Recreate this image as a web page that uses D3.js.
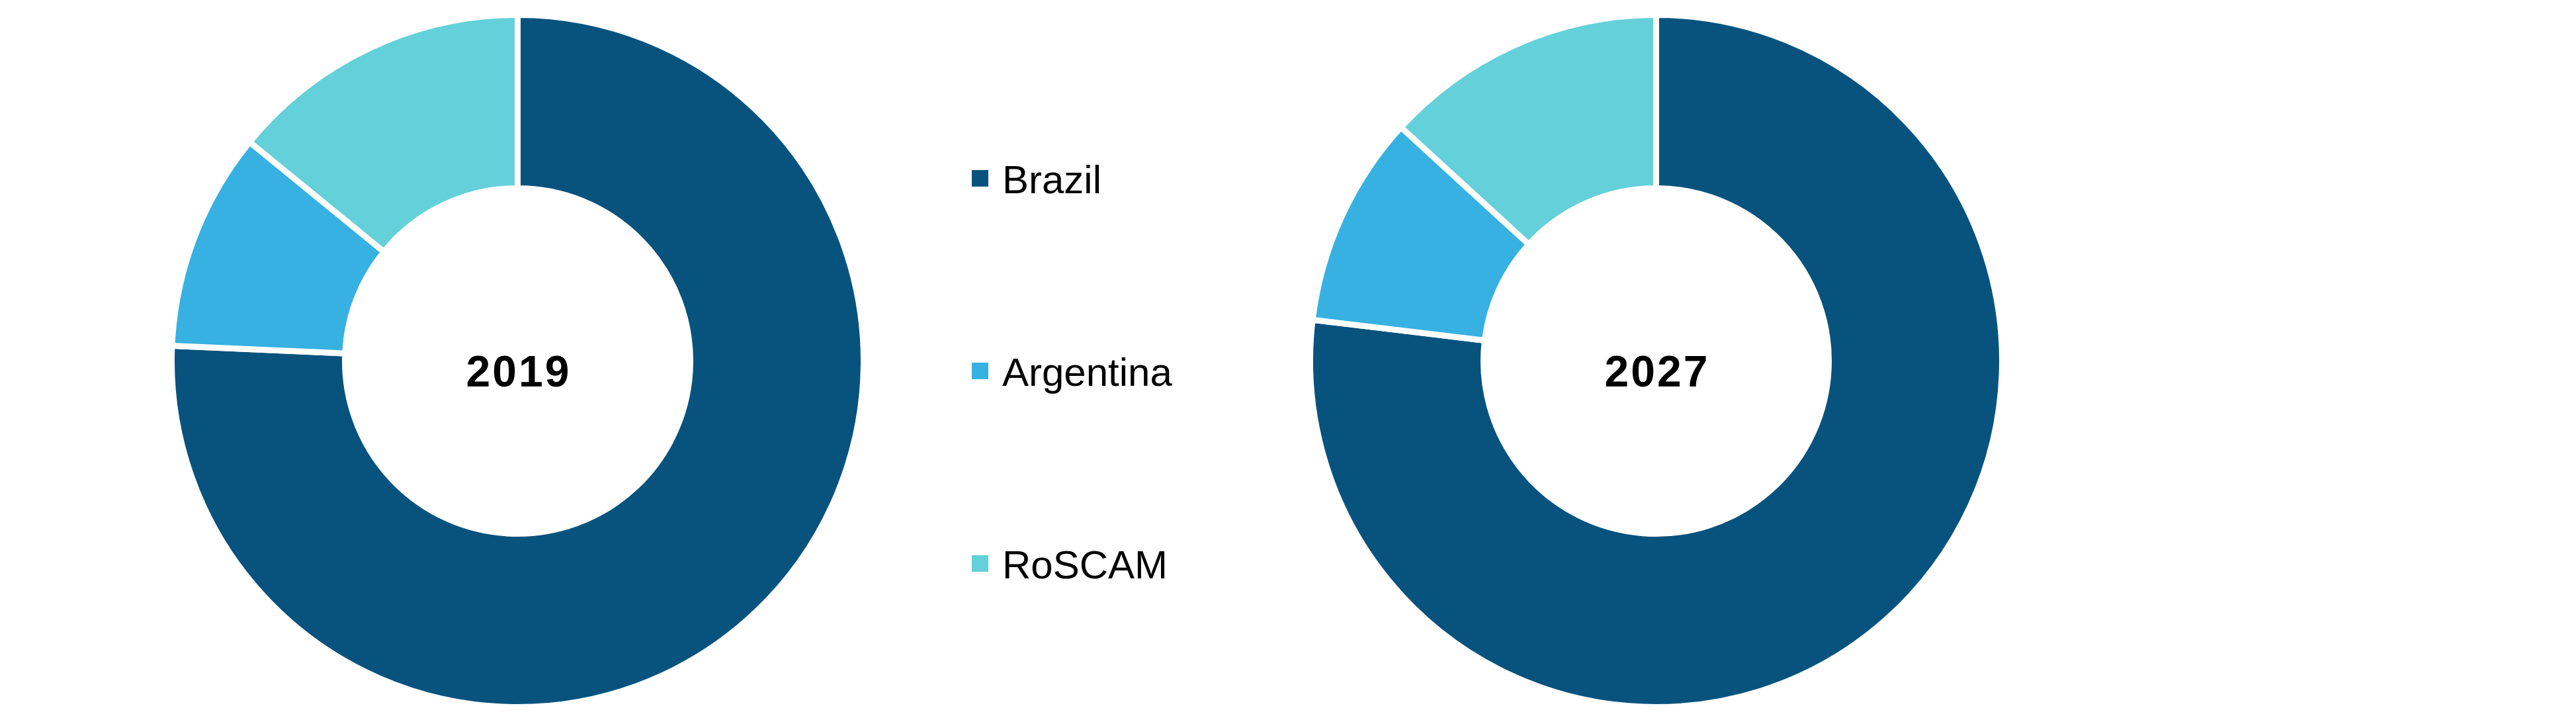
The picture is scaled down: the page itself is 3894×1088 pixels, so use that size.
<!DOCTYPE html>
<html>
<head>
<meta charset="utf-8">
<script src="https://cdn.jsdelivr.net/npm/d3@7"></script>
<style>
  html, body { margin: 0; padding: 0; background: #ffffff; }
  svg { display: block; }
</style>
</head>
<body>
<svg id="chart" width="3894" height="1088"></svg>
<script>
const categories = ["Brazil", "Argentina", "RoSCAM"];
const years = ["2019", "2027"];
const values2019 = [75.7, 10.2, 14.1];
const values2027 = [76.9, 9.9, 13.2];
const colors = ["#08537E", "#36B1E2", "#64D0D9"];

const svg = d3.select("#chart");

const color = d3.scaleOrdinal().domain(categories).range(colors);

const pie = d3.pie().sort(null).value(d => d.value).startAngle(0).endAngle(2 * Math.PI);
const arc = d3.arc().innerRadius(261).outerRadius(523);

const donuts = [
  { year: years[0], values: values2019, cx: 782.5, cy: 545.5 },
  { year: years[1], values: values2027, cx: 2503.5, cy: 545.5 }
];

donuts.forEach(dn => {
  const g = svg.append("g").attr("transform", `translate(${dn.cx},${dn.cy})`);
  const data = categories.map((c, i) => ({ name: c, value: dn.values[i] }));
  g.selectAll("path")
    .data(pie(data))
    .join("path")
    .attr("d", arc)
    .attr("fill", d => color(d.data.name))
    .attr("stroke", "#ffffff")
    .attr("stroke-width", 9)
    .attr("stroke-linejoin", "miter");
  g.append("text")
    .attr("x", 1.5)
    .attr("y", 38)
    .attr("text-anchor", "middle")
    .attr("font-family", "'Liberation Sans', Arial, sans-serif")
    .attr("font-weight", "bold")
    .attr("font-size", 66)
    .attr("letter-spacing", 3)
    .attr("fill", "#000000")
    .text(dn.year);
});

// Legend
const legendY = d3.scalePoint().domain(categories).range([269.5, 851.5]);
const legend = svg.append("g");
categories.forEach(c => {
  const y = legendY(c);
  legend.append("rect")
    .attr("x", 1469)
    .attr("y", y - 12.5)
    .attr("width", 25)
    .attr("height", 25)
    .attr("fill", color(c));
  legend.append("text")
    .attr("x", 1515)
    .attr("y", y + 22)
    .attr("font-family", "'Liberation Sans', Arial, sans-serif")
    .attr("font-size", 60)
    .attr("fill", "#000000")
    .text(c);
});
</script>
</body>
</html>
